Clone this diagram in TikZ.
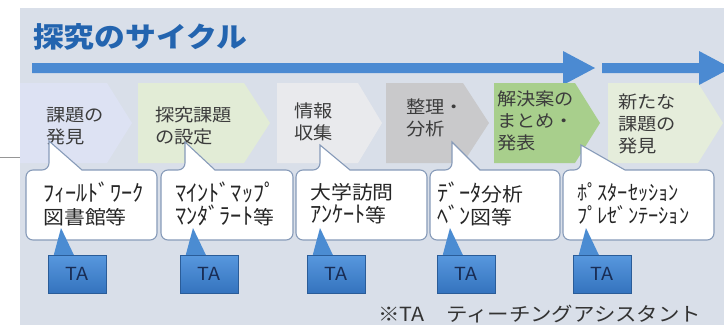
\documentclass[tikz,border=0pt]{standalone}
\usepackage{fontspec}
\newfontfamily\jp[FakeStretch=1.1]{Noto Sans CJK JP}
\newfontfamily\hwfont[FakeStretch=0.97]{Noto Sans CJK JP}
\newcommand{\hw}[1]{{\hwfont\fontsize{23}{23}\selectfont #1}}
\newcommand{\hws}[1]{{\hwfont\fontsize{21}{21}\selectfont #1}}
\usetikzlibrary{calc}
\definecolor{bgc}{RGB}{217,223,233}
\definecolor{titleblue}{RGB}{35,100,175}
\definecolor{arrowblue}{RGB}{75,138,210}
\definecolor{chA}{RGB}{221,226,243}
\definecolor{chB}{RGB}{226,236,214}
\definecolor{chC}{RGB}{233,234,237}
\definecolor{chD}{RGB}{201,201,203}
\definecolor{chE}{RGB}{168,207,140}
\definecolor{chF}{RGB}{229,237,219}
\definecolor{txtgrey}{RGB}{60,60,60}
\definecolor{cborder}{RGB}{135,155,185}
\definecolor{tatop}{RGB}{88,152,222}
\definecolor{tabot}{RGB}{52,115,190}
\definecolor{tatip}{RGB}{75,140,210}
\definecolor{tatext}{RGB}{25,45,85}
\definecolor{lgrey}{RGB}{150,150,150}
\newcommand{\calloutbox}[5]{%
  \draw[callout] ({(#1+#2)/2},240) [rounded corners=7pt] -- (#1,240) -- (#1,170) -- (#3,170) [sharp corners] -- (#3,#4) -- (#5,170) [rounded corners=7pt] -- (#2,170) -- (#2,240) -- cycle;}
\tikzset{
  chevtext/.style={anchor=west, inner sep=0, align=left, text=txtgrey, font=\jp\fontsize{17.5}{22}\selectfont},
  callout/.style={fill=white, draw=cborder, line width=1.1pt},
  calltext/.style={anchor=west, inner sep=0, align=left, text=black!85, font=\jp\fontsize{19}{23}\selectfont},
  tabox/.style={minimum width=58pt, minimum height=38pt, inner sep=0, top color=tatop, bottom color=tabot, draw=tabot!80!black, line width=0.4pt, text=tatext, font=\jp\fontsize{18}{20}\selectfont},
}
\begin{document}
\begin{tikzpicture}[x=1pt,y=-1pt]
\useasboundingbox (0,0) rectangle (724,325);
\clip (0,0) rectangle (724,325);
\fill[bgc] (20,8) rectangle (724,325);
\draw[lgrey, line width=1pt] (0,157) -- (20,157);
% title
\node[anchor=west, inner sep=0, text=titleblue, font=\jp\bfseries\fontsize{28}{30}\selectfont] (title) at (33,37) {探究のサイクル};
% arrows
\fill[arrowblue] (32,63) -- (563,63) -- (563,51) -- (595,68) -- (563,85) -- (563,73) -- (32,73) -- cycle;
\fill[arrowblue] (602,63) -- (699,63) -- (699,51) -- (731,68) -- (699,85) -- (699,73) -- (602,73) -- cycle;
% chevrons
\fill[chA] (20,83) -- (107,83) -- (132,123) -- (107,163) -- (20,163) -- cycle;
\fill[chB] (138,83) -- (244,83) -- (270,123) -- (244,163) -- (138,163) -- cycle;
\fill[chC] (277,83) -- (358,83) -- (382,123) -- (358,163) -- (277,163) -- cycle;
\fill[chD] (386,83) -- (463,83) -- (489,123) -- (463,163) -- (386,163) -- cycle;
\fill[chE] (494,83) -- (575,83) -- (600,123) -- (575,163) -- (494,163) -- cycle;
\fill[chF] (608,83) -- (698,83) -- (723,123) -- (698,163) -- (608,163) -- cycle;
\node[chevtext] (c1) at (46,126) {課題の\\発見};
\node[chevtext] (c2) at (155,126) {探究課題\\の設定};
\node[chevtext] (c3) at (294,122) {情報\\収集};
\node[chevtext] (c4) at (406,118) {整理・\\分析};
\node[chevtext] (c5) at (497,121) {解決案の\\まとめ・\\発表};
\node[chevtext] (c6) at (618,124) {新たな\\課題の\\発見};
% callouts
\calloutbox{26}{157}{49}{141}{82}
\calloutbox{161}{293}{185}{142}{215}
\calloutbox{296}{427}{320}{145}{350}
\calloutbox{430}{560}{452}{142}{480}
\calloutbox{563}{714}{581}{145}{625}
\node[calltext] (t1) at (43,204) {\hw{ﾌｨｰﾙﾄﾞﾜｰｸ}\\図書館等};
\node[calltext] (t2) at (175,204) {\hw{ﾏｲﾝﾄﾞﾏｯﾌﾟ}\\\hw{ﾏﾝﾀﾞﾗｰﾄ}等};
\node[calltext] (t3) at (310,204) {大学訪問\\\hw{ｱﾝｹｰﾄ}等};
\node[calltext] (t4) at (437,204) {\hw{ﾃﾞｰﾀ}分析\\\hw{ﾍﾞﾝ}図等};
\node[calltext] (t5) at (577,204) {\hws{ﾎﾟｽﾀｰｾｯｼｮﾝ}\\\hws{ﾌﾟﾚｾﾞﾝﾃｰｼｮﾝ}};
% TA boxes
\foreach \i/\xl in {1/48,2/180,3/307,4/437,5/573}{
  \coordinate (tip\i) at (\xl+13,228);
  \node[tabox] (ta\i) at (\xl+29,274) {TA};
  \fill[tatip] ($(ta\i.north west)+(6,0)$) -- (tip\i) -- ($(ta\i.north west)+(26,0)$) -- cycle;
}
% footnote
\node[anchor=west, inner sep=0, text=black!80, font=\jp\fontsize{19.5}{22}\selectfont] (note) at (378,314) {※TA　ティーチングアシスタント};
\end{tikzpicture}
\end{document}
